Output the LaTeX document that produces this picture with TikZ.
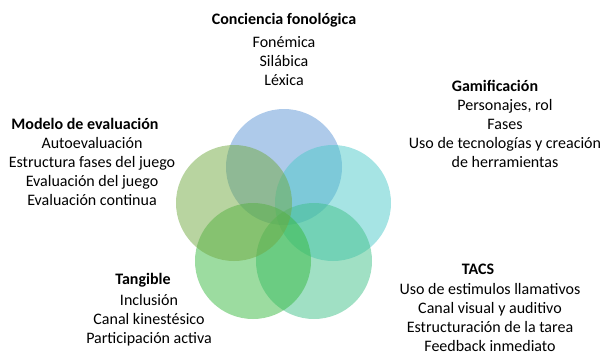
\documentclass[tikz,border=0pt]{standalone}
\usepackage{fontspec}
\setmainfont{Carlito}
\definecolor{cblue}{RGB}{93,149,213}
\definecolor{cteal}{RGB}{77,201,201}
\definecolor{colive}{RGB}{113,169,65}
\definecolor{cgreen}{RGB}{57,185,65}
\definecolor{cmint}{RGB}{65,193,137}
\tikzset{
    bubble/.style={circle, minimum size=87pt, inner sep=0pt, fill opacity=0.5},
    title/.style={font=\bfseries\fontsize{12}{14}\selectfont, inner sep=0pt},
    items/.style={align=center, anchor=north, inner sep=0pt, font=\fontsize{12}{14.4}\selectfont}
}
\begin{document}
\begin{tikzpicture}[x=0.75pt, y=-0.75pt]
    \useasboundingbox (0,0) rectangle (601,358);

    % Circles
    \node[bubble, fill=cblue] (fono) at (284,167) {};
    \node[bubble, fill=cteal] (gami) at (333,203) {};
    \node[bubble, fill=cmint] (tacs) at (314,261) {};
    \node[bubble, fill=cgreen] (tang) at (253,261) {};
    \node[bubble, fill=colive] (eval) at (234,203) {};

    % Conciencia fonologica
    \node[title] (fonoT) at (284,20) {Conciencia fonológica};
    \node[items] (fonoL) at (284,36) {Fonémica\\Silábica\\Léxica};

    % Gamificacion
    \node[title] (gamiT) at (495,86) {Gamificación};
    \node[items] (gamiL) at (505,99) {Personajes, rol\\Fases\\Uso de tecnologías y creación\\de herramientas};

    % Modelo de evaluacion
    \node[title] (evalT) at (85,124) {Modelo de evaluación};
    \node[items] (evalL) at (92,137) {Autoevaluación\\Estructura fases del juego\\Evaluación del juego\\Evaluación continua};

    % Tangible
    \node[title] (tangT) at (143,280) {Tangible};
    \node[items] (tangL) at (149,294) {Inclusión\\Canal kinestésico\\Participación activa};

    % TACS
    \node[title] (tacsT) at (478,269) {TACS};
    \node[items] (tacsL) at (490,283) {Uso de estimulos llamativos\\Canal visual y auditivo\\Estructuración de la tarea\\Feedback inmediato};
\end{tikzpicture}
\end{document}
